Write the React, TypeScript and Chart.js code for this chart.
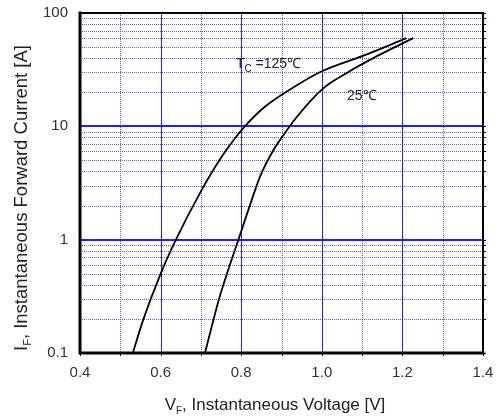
import React, { useEffect, useRef } from 'react';
import { Chart, registerables } from 'chart.js';

Chart.register(...registerables);

// Forward voltage (V) / forward current (A)
const V_125 = [0.531, 0.557, 0.6, 0.638, 0.7, 0.747, 0.785, 0.809, 0.855, 0.921, 1.0, 1.103, 1.21];
const I_125 = [0.1, 0.197, 0.5, 1, 2.67, 5.1, 7.9, 10, 14.5, 21.1, 30.6, 42, 60];
const V_25 = [0.71, 0.747, 0.793, 0.818, 0.847, 0.878, 0.905, 0.938, 1.0, 1.062, 1.144, 1.227];
const I_25 = [0.1, 0.316, 1, 1.84, 3.62, 6.0, 8.4, 12.1, 21.1, 29.6, 42.9, 60];

const X_TICKS = [0.4, 0.5, 0.6, 0.7, 0.8, 0.9, 1.0, 1.1, 1.2, 1.3, 1.4];
const X_LABELS = ['0.4', '', '0.6', '', '0.8', '', '1.0', '', '1.2', '', '1.4'];
const Y_TICKS = [
  0.1, 0.2, 0.3, 0.4, 0.5, 0.6, 0.7, 0.8, 0.9,
  1, 2, 3, 4, 5, 6, 7, 8, 9,
  10, 20, 30, 40, 50, 60, 70, 80, 90, 100,
];
const Y_LABELS = ['0.1', '1', '10', '100'];
const Y_LABEL_VALUES = [0.1, 1, 10, 100];
const X_MAJOR = [0.4, 0.6, 0.8, 1.0, 1.2, 1.4];

// annotation anchors (data coordinates)
const ANNOT_125 = { v: 0.787, i: 33 };
const ANNOT_25 = { v: 1.0625, i: 17.2 };

const FONT = "'Liberation Sans', Arial, sans-serif";
const TEXT = '#222';
const MAJOR_COLOR = 'rgb(30,30,255)';
const MINOR_COLOR = 'rgb(90,90,255)';

const isYMajor = (v: number) => {
  const l = Math.log10(v);
  return Math.abs(l - Math.round(l)) < 1e-6;
};
const isXMajor = (v: number) => X_MAJOR.some((m) => Math.abs(m - v) < 1e-6);

function drawSub(ctx: CanvasRenderingContext2D, main: string, sub: string, rest: string, x: number, y: number, size: number, align: 'center' | 'left', subSize: number, subDrop: number) {
  ctx.textAlign = 'left';
  ctx.textBaseline = 'alphabetic';
  ctx.font = `${size}px ${FONT}`;
  const w1 = ctx.measureText(main).width;
  const w3 = ctx.measureText(rest).width;
  ctx.font = `${subSize}px ${FONT}`;
  const w2 = ctx.measureText(sub).width;
  const total = w1 + w2 + w3;
  let sx = align === 'center' ? x - total / 2 : x;
  ctx.font = `${size}px ${FONT}`;
  ctx.fillText(main, sx, y);
  sx += w1;
  ctx.font = `${subSize}px ${FONT}`;
  ctx.fillText(sub, sx, y + subDrop);
  sx += w2;
  ctx.font = `${size}px ${FONT}`;
  ctx.fillText(rest, sx, y);
}

const gridPlugin = {
  id: 'customGrid',
  beforeDatasetsDraw(chart: any) {
    const ctx: CanvasRenderingContext2D = chart.ctx;
    const { left, right, top, bottom } = chart.chartArea;
    const xs = chart.scales.x;
    const ys = chart.scales.y;
    ctx.save();
    // minor dotted lines
    ctx.strokeStyle = MINOR_COLOR;
    ctx.lineWidth = 1;
    ctx.setLineDash([1, 1]);
    ctx.beginPath();
    X_TICKS.filter((v) => !isXMajor(v)).forEach((v) => {
      const px = Math.round(xs.getPixelForValue(v)) + 0.5;
      ctx.moveTo(px, top);
      ctx.lineTo(px, bottom);
    });
    Y_TICKS.filter((v) => !isYMajor(v)).forEach((v) => {
      const py = Math.round(ys.getPixelForValue(v)) + 0.5;
      ctx.moveTo(left, py);
      ctx.lineTo(right, py);
    });
    ctx.stroke();
    // major solid lines
    ctx.setLineDash([]);
    ctx.strokeStyle = MAJOR_COLOR;
    ctx.lineWidth = 1;
    ctx.beginPath();
    X_TICKS.filter((v) => isXMajor(v)).forEach((v) => {
      const px = Math.round(xs.getPixelForValue(v)) + 0.5;
      ctx.moveTo(px, top);
      ctx.lineTo(px, bottom);
    });
    ctx.stroke();
    ctx.lineWidth = 2;
    ctx.beginPath();
    Y_TICKS.filter((v) => isYMajor(v)).forEach((v) => {
      const py = Math.round(ys.getPixelForValue(v));
      ctx.moveTo(left, py);
      ctx.lineTo(right, py);
    });
    ctx.stroke();
    ctx.restore();
  },
};

const decorPlugin = {
  id: 'decor',
  afterDraw(chart: any) {
    const ctx: CanvasRenderingContext2D = chart.ctx;
    const { left, right, top, bottom } = chart.chartArea;
    const xs = chart.scales.x;
    const ys = chart.scales.y;
    ctx.save();
    // small outside ticks
    ctx.strokeStyle = '#000';
    ctx.lineWidth = 1;
    ctx.setLineDash([]);
    ctx.beginPath();
    Y_TICKS.forEach((v) => {
      const py = Math.round(ys.getPixelForValue(v)) + 0.5;
      ctx.moveTo(right, py);
      ctx.lineTo(right + 3, py);
    });
    X_TICKS.forEach((v) => {
      const px = Math.round(xs.getPixelForValue(v)) + 0.5;
      ctx.moveTo(px, bottom);
      ctx.lineTo(px, bottom + 3);
    });
    ctx.stroke();
    // frame
    ctx.lineCap = 'square';
    ctx.beginPath();
    ctx.lineWidth = 2;
    ctx.moveTo(left, top);
    ctx.lineTo(right, top);
    ctx.lineTo(right, bottom);
    ctx.stroke();
    ctx.beginPath();
    ctx.lineWidth = 3;
    ctx.moveTo(left, top);
    ctx.lineTo(left, bottom);
    ctx.lineTo(right, bottom);
    ctx.stroke();

    ctx.fillStyle = TEXT;
    // x title
    drawSub(ctx, 'V', 'F', ', Instantaneous Voltage [V]', 275, 410, 17, 'center', 10, 4);
    // y title
    ctx.save();
    ctx.translate(27, 198);
    ctx.rotate(-Math.PI / 2);
    drawSub(ctx, 'I', 'F', ', Instantaneous Forward Current [A]', 0, 0, 18.5, 'center', 11, 4);
    ctx.restore();
    // annotations
    const ax1 = xs.getPixelForValue(ANNOT_125.v);
    const ay1 = ys.getPixelForValue(ANNOT_125.i);
    drawSub(ctx, 'T', 'C', ' =125\u2103', ax1, ay1, 14, 'left', 10, 4);
    const ax2 = xs.getPixelForValue(ANNOT_25.v);
    const ay2 = ys.getPixelForValue(ANNOT_25.i);
    ctx.font = `14px ${FONT}`;
    ctx.textAlign = 'left';
    ctx.fillText('25\u2103', ax2, ay2);
    ctx.restore();
  },
};

export default function App() {
  const ref = useRef<HTMLCanvasElement>(null);
  useEffect(() => {
    if (!ref.current) return;
    const chart = new Chart(ref.current, {
      type: 'line',
      data: {
        datasets: [
          {
            label: 'Tc=125',
            data: V_125.map((v, i) => ({ x: v, y: I_125[i] })),
            borderColor: '#000',
            borderWidth: 1.8,
            pointRadius: 0,
            cubicInterpolationMode: 'monotone',
            fill: false,
          },
          {
            label: '25',
            data: V_25.map((v, i) => ({ x: v, y: I_25[i] })),
            borderColor: '#000',
            borderWidth: 1.8,
            pointRadius: 0,
            cubicInterpolationMode: 'monotone',
            fill: false,
          },
        ],
      },
      options: {
        responsive: false,
        animation: false,
        events: [],
        layout: { padding: { left: 0, right: 17, top: 13, bottom: 0 } },
        plugins: { legend: { display: false }, tooltip: { enabled: false }, title: { display: false } },
        scales: {
          x: {
            type: 'linear',
            min: 0.4,
            max: 1.4,
            afterBuildTicks: (s: any) => {
              s.ticks = X_TICKS.map((v) => ({ value: v }));
            },
            afterFit: (s: any) => {
              s.height = 67;
              s.paddingLeft = 0;
              s.paddingRight = 0;
            },
            ticks: {
              autoSkip: false,
              maxRotation: 0,
              padding: 11,
              color: '#333',
              font: { family: FONT, size: 15 },
              callback: (value: any, index: number) => X_LABELS[index] ?? '',
            },
            grid: { display: false, drawTicks: false },
            border: { display: false },
          },
          y: {
            type: 'logarithmic',
            min: 0.1,
            max: 100,
            afterBuildTicks: (s: any) => {
              s.ticks = Y_TICKS.map((v) => ({ value: v, major: isYMajor(v) }));
            },
            afterFit: (s: any) => {
              s.width = 80;
              s.paddingTop = 0;
              s.paddingBottom = 0;
            },
            ticks: {
              autoSkip: false,
              padding: 12,
              color: '#333',
              font: { family: FONT, size: 15 },
              callback: (value: any) => {
                const k = Y_LABEL_VALUES.findIndex((m) => Math.abs(m - value) < 1e-9);
                return k >= 0 ? Y_LABELS[k] : '';
              },
            },
            grid: { display: false, drawTicks: false },
            border: { display: false },
          },
        },
      } as any,
      plugins: [gridPlugin, decorPlugin],
    });
    return () => chart.destroy();
  }, []);
  return (
    <div style={{ position: 'fixed', left: 0, top: 0, width: 500, height: 420, background: '#fff' }}>
      <canvas ref={ref} width={500} height={420} style={{ display: 'block' }} />
    </div>
  );
}
